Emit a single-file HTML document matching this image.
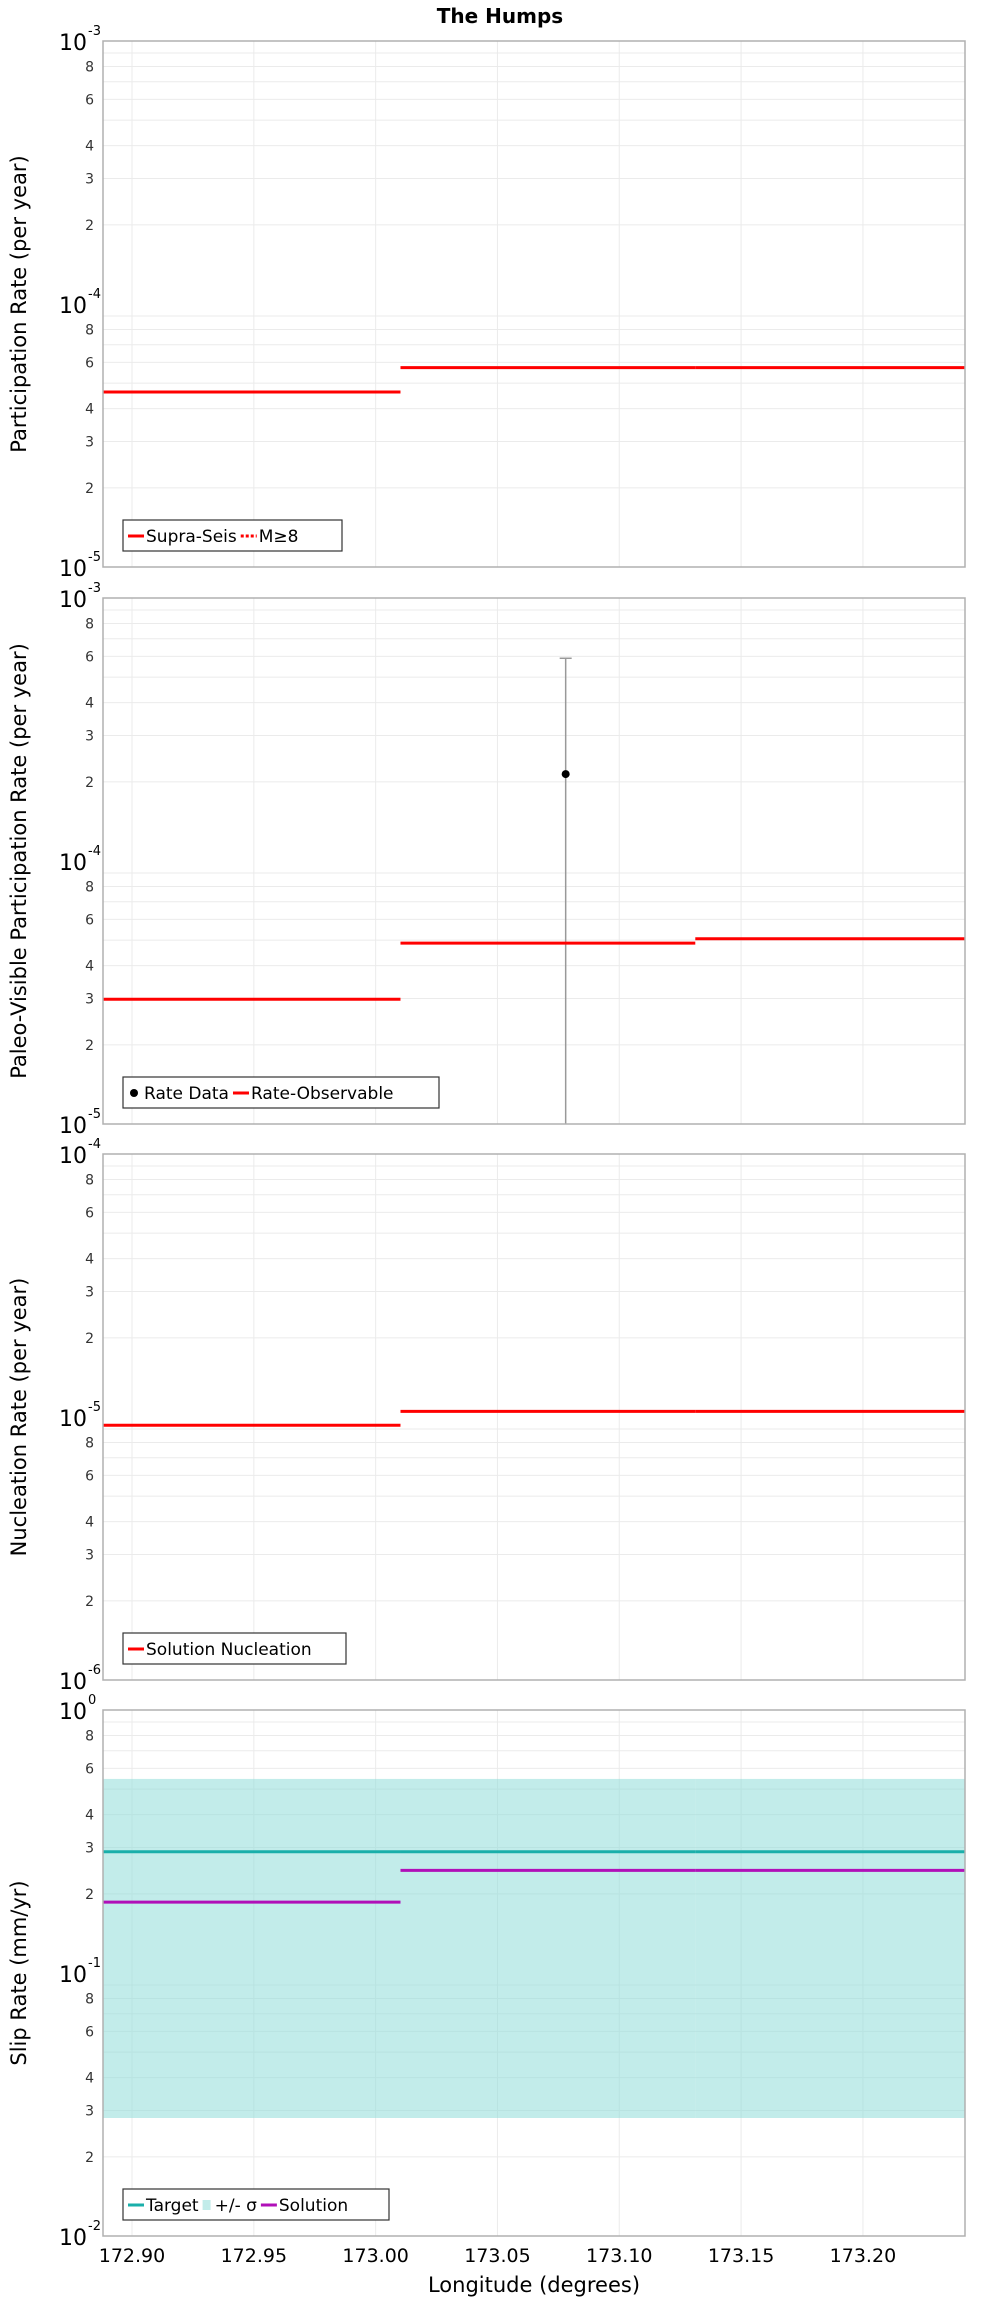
<!DOCTYPE html>
<html><head><meta charset="utf-8"><style>
html,body{margin:0;padding:0;background:#fff;}
svg{display:block;font-family:"DejaVu Sans","Liberation Sans",sans-serif;}
</style></head><body>
<svg id="chart" width="1000" height="2300" viewBox="0 0 1000 2300" xmlns="http://www.w3.org/2000/svg">
<text x="500" y="23" text-anchor="middle" font-size="20" font-weight="bold" font-family="DejaVu Sans, sans-serif">The Humps</text>
<text x="534" y="2292" text-anchor="middle" font-size="21">Longitude (degrees)</text>
</svg>
<script>
// X breaks (longitude) for the three sub-sections
const segStarts = [172.8881, 173.0102, 173.1312];
const segEnds = [173.0102, 173.1312, 173.2419];
const xTicks = [172.90, 172.95, 173.00, 173.05, 173.10, 173.15, 173.20];
const xTickLabels = ["172.90","172.95","173.00","173.05","173.10","173.15","173.20"];
// Panel 1 participation
const partSupra = [4.63e-5, 5.73e-5, 5.73e-5];
// Panel 2 paleo
const paleoObs = [2.98e-5, 4.87e-5, 5.06e-5];
const paleoDataX = [173.078];
const paleoDataY = [2.14e-4];
const paleoDataHi = [5.9e-4];
const paleoDataLo = [1e-6];
// Panel 3 nucleation
const nuclSolution = [9.3e-6, 1.05e-5, 1.05e-5];
// Panel 4 slip
const slipTarget = [0.289, 0.289, 0.289];
const slipSigmaHi = [0.547, 0.547, 0.547];
const slipSigmaLo = [0.0281, 0.0281, 0.0281];
const slipSolution = [0.186, 0.2455, 0.2455];
// axis decade ranges
const panelMinExp = [-5, -5, -6, -2];
const panelMaxExp = [-3, -3, -4, 0];
const panelTitles = ["Participation Rate (per year)", "Paleo-Visible Participation Rate (per year)", "Nucleation Rate (per year)", "Slip Rate (mm/yr)"];

const NS = "http://www.w3.org/2000/svg";
const svg = document.getElementById("chart");
const L = 103, R = 965, XMIN = 172.8881, XMAX = 173.2419;
const tops = [41, 598, 1154, 1710], H = 526;
function xs(v){ return L + (v - XMIN) / (XMAX - XMIN) * (R - L); }
function mk(tag, attrs, parent){
  const e = document.createElementNS(NS, tag);
  for (const k in attrs) e.setAttribute(k, attrs[k]);
  (parent || svg).appendChild(e);
  return e;
}
function ysFor(p){
  const t = tops[p], lo = panelMinExp[p], hi = panelMaxExp[p];
  return v => t + H - (Math.log10(v) - lo) / (hi - lo) * H;
}

for (let p = 0; p < 4; p++) {
  const t = tops[p], ys = ysFor(p);
  const g = mk("g", {});
  
  
  mk("rect", {x:L, y:t, width:R-L, height:H, fill:"#fff"}, g);
  for (let e = panelMinExp[p]; e < panelMaxExp[p]; e++) {
    for (let m = 1; m <= 9; m++) {
      const y = ys(m * Math.pow(10, e));
      if (m > 1) mk("line", {x1:L, x2:R, y1:y, y2:y, stroke:"#ebebeb", "stroke-width":1}, g);
      if ([2,3,4,6,8].indexOf(m) >= 0) {
        const tx = mk("text", {x:94, y:y+5, "text-anchor":"end", "font-size":14, fill:"#333"}, g);
        tx.textContent = m;
        
        
      }
    }
  }
  for (let e = panelMinExp[p]; e <= panelMaxExp[p]; e++) {
    const y = ys(Math.pow(10, e));
    const tx = mk("text", {x:87, y:y+9, "text-anchor":"end", "font-size":22, fill:"#000"}, g);
    tx.textContent = "10";
    
    
    const ex = mk("text", {x:88, y:y-6, "text-anchor":"start", "font-size":13, fill:"#000"}, g);
    ex.textContent = String(e);
    
    
  }
  xTicks.forEach(v => {
    mk("line", {x1:xs(v), x2:xs(v), y1:t, y2:t+H, stroke:"#ebebeb", "stroke-width":1}, g);
  });
  const yt = mk("text", {x:0, y:0, transform:"translate(26," + (t + H/2) + ") rotate(-90)", "text-anchor":"middle", "font-size":21}, g);
  yt.textContent = panelTitles[p];
  
  
}

function steps(p, arr, color, name, w){
  const ys = ysFor(p);
  arr.forEach((v, i) => {
    const ln = mk("line", {x1:xs(segStarts[i]), x2:xs(segEnds[i]), y1:ys(v), y2:ys(v), stroke:color, "stroke-width":w||3});
    
    
  });
}
(function(){
  const ys = ysFor(3);
  slipSigmaHi.forEach((v, i) => {
    const r = mk("rect", {x:xs(segStarts[i]), y:ys(v), width:xs(segEnds[i])-xs(segStarts[i]), height:ys(slipSigmaLo[i])-ys(v), fill:"#8fdcd8", "fill-opacity":0.55});
    
    
  });
})();
steps(0, partSupra, "#ff0000", "supra-seis");
(function(){
  const ys = ysFor(1);
  const clip = v => Math.min(Math.max(v, tops[1]), tops[1]+H);
  paleoDataX.forEach((x, i) => {
    const X = xs(x);
    const eb = mk("line", {x1:X, x2:X, y1:clip(ys(paleoDataHi[i])), y2:clip(ys(paleoDataLo[i])), stroke:"#999", "stroke-width":1.5});
    
    
    const cap = mk("line", {x1:X-6, x2:X+6, y1:ys(paleoDataHi[i]), y2:ys(paleoDataHi[i]), stroke:"#999", "stroke-width":1.5});
    
    
  });
})();
steps(1, paleoObs, "#ff0000", "rate-observable");
(function(){
  const ys = ysFor(1);
  paleoDataX.forEach((x, i) => {
    const c = mk("circle", {cx:xs(x), cy:ys(paleoDataY[i]), r:4, fill:"#000"});
    
    
  });
})();
steps(2, nuclSolution, "#ff0000", "solution-nucleation");
steps(3, slipTarget, "#1aafaa", "target");
steps(3, slipSolution, "#b010b8", "solution");

for (let p = 0; p < 4; p++) {
  const f = mk("rect", {x:L, y:tops[p], width:R-L, height:H, fill:"none", stroke:"#b0b0b0", "stroke-width":1.5});
  
  
}
xTicks.forEach((v, i) => {
  const tx = mk("text", {x:xs(v), y:2262, "text-anchor":"middle", "font-size":19});
  tx.textContent = xTickLabels[i];
  
  
});

function legend(p, items, width){
  const y0 = tops[p] + H - 47;
  const g = mk("g", {});
  
  
  mk("rect", {x:123, y:y0, width:width, height:31, fill:"#fff", stroke:"#333", "stroke-width":1.2}, g);
  let x = 128;
  items.forEach(it => {
    const cy = y0 + 16;
    if (it.kind === "dot") mk("circle", {cx:x+6, cy:cy, r:4, fill:"#000"}, g);
    else if (it.kind === "dash") mk("line", {x1:x, x2:x+16, y1:cy, y2:cy, stroke:it.color, "stroke-width":3, "stroke-dasharray":"3 2"}, g);
    else if (it.kind === "box") mk("rect", {x:x, y:cy-5, width:8, height:10, fill:"#c2ecea"}, g);
    else mk("line", {x1:x, x2:x+16, y1:cy, y2:cy, stroke:it.color, "stroke-width":3}, g);
    const off = it.kind==="box"?12:(it.kind==="dot"?16:18);
    const tx = mk("text", {x:x + off, y:cy+6, "font-size":17}, g);
    tx.textContent = it.label;
    
    
    x = x + off + tx.getComputedTextLength() + 4;
  });
}
legend(0, [{kind:"line", color:"#ff0000", label:"Supra-Seis"}, {kind:"dash", color:"#ff0000", label:"M≥8"}], 219);
legend(1, [{kind:"dot", label:"Rate Data"}, {kind:"line", color:"#ff0000", label:"Rate-Observable"}], 316);
legend(2, [{kind:"line", color:"#ff0000", label:"Solution Nucleation"}], 223);
legend(3, [{kind:"line", color:"#1aafaa", label:"Target"}, {kind:"box", label:"+/- σ"}, {kind:"line", color:"#b010b8", label:"Solution"}], 266);
</script>
</body></html>
